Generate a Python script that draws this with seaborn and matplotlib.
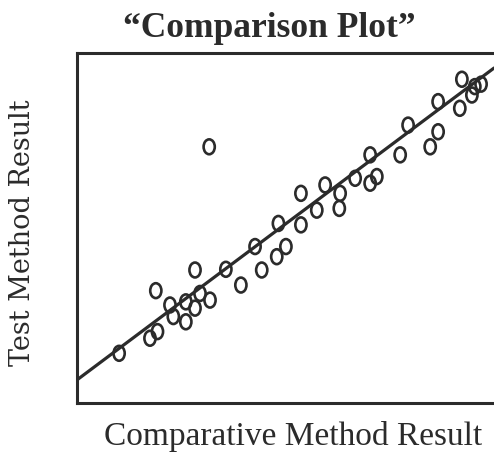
import numpy as np
import pandas as pd
import matplotlib
matplotlib.use("Agg")
import matplotlib.pyplot as plt
from matplotlib.path import Path
import seaborn as sns

# Data (arbitrary 0-100 units)
comparative = [10.1, 17.5, 19.3, 18.9, 22.3, 23.1, 26.1, 26.1, 28.3, 29.5,
               31.9, 28.3, 31.7, 35.7, 39.3, 42.7, 44.3, 47.9, 50.1, 48.3,
               53.7, 53.7, 57.5, 59.5, 62.9, 63.1, 66.7, 70.3, 71.9, 70.3,
               77.5, 79.4, 84.7, 86.6, 86.6, 91.8, 92.3, 94.7, 95.4, 96.9]
test = [14.2, 18.5, 20.4, 32.1, 28.0, 24.7, 23.2, 28.9, 27.1, 31.3,
        29.4, 38.0, 73.2, 38.2, 33.7, 44.7, 38.0, 41.8, 44.7, 51.3,
        50.9, 59.9, 55.1, 62.3, 55.6, 59.9, 64.2, 62.8, 64.7, 70.9,
        70.9, 79.4, 73.2, 77.5, 86.1, 84.2, 92.5, 88.0, 90.4, 91.1]
fit_intercept = 6.6
fit_slope = 0.891

title = "\u201cComparison Plot\u201d"
xlabel = "Comparative Method Result"
ylabel = "Test Method Result"

df = pd.DataFrame({"x": comparative, "y": test})

sns.set_style("white")
plt.rcParams["font.family"] = ["Liberation Serif", "DejaVu Serif"]

ink = "#2b2b2b"
fig = plt.figure(figsize=(4.94, 4.53), dpi=100)
ax = fig.add_axes([77 / 494, 50 / 453, 1 - 77 / 494, 350 / 453])
ax.set_xlim(0, 100)
ax.set_ylim(0, 100)

# ellipse marker like a hand-lettered "O"
circ = Path.unit_circle()
ell = Path(circ.vertices * np.array([0.75, 1.0]), circ.codes)

xl = np.array(ax.get_xlim())
line_df = pd.DataFrame({"x": xl, "y": fit_intercept + fit_slope * xl})
sns.lineplot(data=line_df, x="x", y="y", ax=ax, color=ink, linewidth=2.3)
sns.scatterplot(data=df, x="x", y="y", ax=ax, marker=ell, s=115,
                facecolors="none", edgecolor=ink, linewidth=1.9, zorder=3)

for side in ["left", "bottom", "top"]:
    ax.spines[side].set_color(ink)
    ax.spines[side].set_linewidth(2.2)
ax.spines["right"].set_visible(False)
ax.set_xticks([])
ax.set_yticks([])

ax.set_xlabel(xlabel, fontsize=24, color=ink, va="baseline")
ax.xaxis.set_label_coords(0.518, (403 - 445) / 350)
ax.set_ylabel(ylabel, fontsize=19.5, color=ink, va="center",
              family=["DejaVu Serif"])
ax.yaxis.set_label_coords((23 - 77) / 417, (403 - 232.5) / 350)
ax.set_title(title, fontsize=25.5, fontweight="bold", color=ink,
             x=0.46, y=(403 - 37) / 350, va="baseline", pad=0)

fig.savefig("out.png", dpi=100)
